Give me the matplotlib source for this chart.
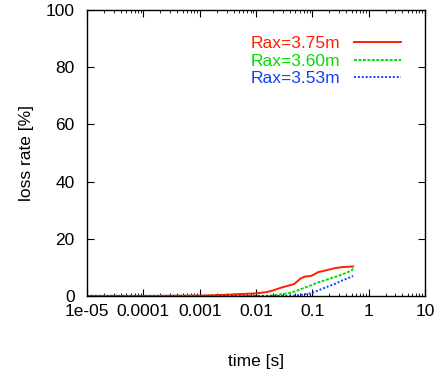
import matplotlib
matplotlib.use('Agg')
import matplotlib.pyplot as plt
from matplotlib.ticker import LogLocator, FixedLocator, NullFormatter

plt.rcParams['font.family'] = ['Liberation Sans', 'DejaVu Sans']

# loss rate curves (time [s], loss [%])
t_375 = [1e-5, 1e-4, 1e-3, 0.003, 0.01, 0.015, 0.02, 0.028, 0.035, 0.048, 0.063, 0.075, 0.095, 0.11, 0.126, 0.18, 0.25, 0.35, 0.53]
l_375 = [0, 0, 0.1, 0.4, 0.9, 1.3, 1.9, 2.9, 3.4, 4.2, 6.2, 6.8, 7.0, 7.6, 8.3, 9.0, 9.7, 10.1, 10.3]

t_360 = [1e-5, 1e-3, 0.01, 0.018, 0.025, 0.037, 0.05, 0.063, 0.09, 0.126, 0.18, 0.25, 0.35, 0.5, 0.53]
l_360 = [0, 0, 0, 0.05, 0.4, 0.9, 1.6, 2.4, 3.5, 4.7, 5.7, 6.6, 7.6, 8.9, 9.6]

t_353 = [1e-5, 1e-3, 0.02, 0.04, 0.048, 0.07, 0.095, 0.13, 0.19, 0.25, 0.33, 0.42, 0.53]
l_353 = [0, 0, 0, 0, 0.1, 0.5, 0.9, 2.0, 3.3, 4.2, 5.3, 6.1, 7.0]

labels = ['Rax=3.75m', 'Rax=3.60m', 'Rax=3.53m']
colors = ['#ff2000', '#00dd00', '#1040ff']

fig = plt.figure(figsize=(4.44, 3.76), dpi=100)
ax = fig.add_axes([0.196, 0.213, 0.761, 0.76])

ax.plot(t_375, l_375, color=colors[0], lw=1.4, label=labels[0])
ax.plot(t_360, l_360, color=colors[1], lw=1.4, ls=(0, (1.5, 0.8)), label=labels[1])
ax.plot(t_353, l_353, color=colors[2], lw=1.4, ls=(0, (1, 1)), label=labels[2])

ax.set_xscale('log')
ax.set_xlim(1e-5, 10)
ax.set_ylim(0, 100)
ax.xaxis.set_major_locator(FixedLocator([1e-5, 1e-4, 1e-3, 1e-2, 1e-1, 1, 10]))
ax.set_xticklabels(['1e-05', '0.0001', '0.001', '0.01', '0.1', '1', '10'])
ax.xaxis.set_minor_locator(LogLocator(base=10, subs=[2, 3, 4, 5, 6, 7, 8, 9], numticks=20))
ax.xaxis.set_minor_formatter(NullFormatter())
ax.set_yticks([0, 20, 40, 60, 80, 100])

ax.tick_params(which='both', direction='in', top=True, right=True, labelsize=12.5)
ax.tick_params(axis='y', pad=9)
ax.tick_params(axis='x', pad=6)
ax.tick_params(which='major', length=5)
ax.tick_params(which='minor', length=2.5)
for s in ax.spines.values():
    s.set_linewidth(1.0)

ax.set_xlabel('time [s]', fontsize=12.5, labelpad=25)
ax.set_ylabel('loss rate [%]', fontsize=12.5, labelpad=8)

leg = ax.legend(loc='upper right', frameon=False, markerfirst=False, fontsize=12.5,
                handlelength=2.7, handletextpad=0.8, labelspacing=0.15,
                borderaxespad=0.0, bbox_to_anchor=(0.95, 0.935))
for txt, c in zip(leg.get_texts(), colors):
    txt.set_color(c)

fig.savefig('out.png', dpi=100)
